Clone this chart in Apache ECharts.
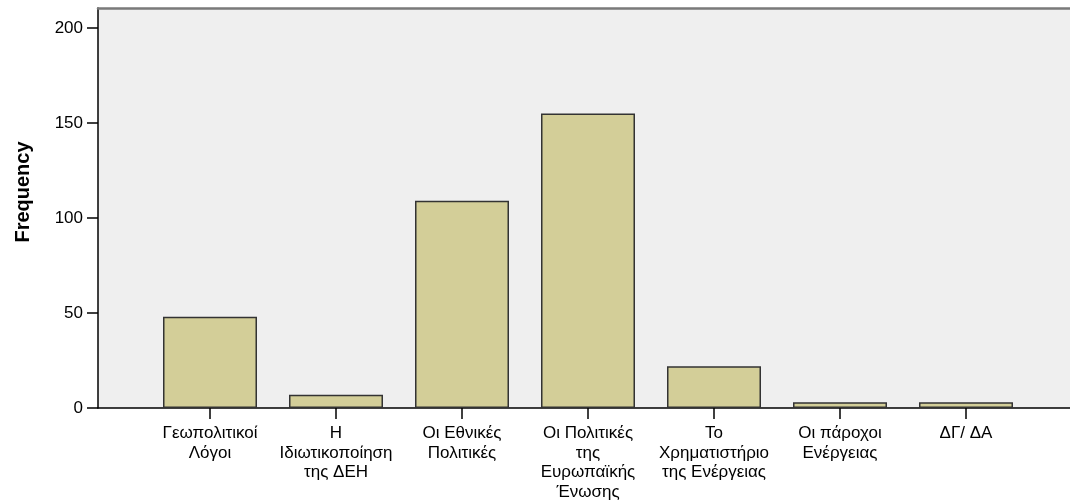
<!DOCTYPE html>
<html>
<head>
<meta charset="utf-8">
<script src="https://cdn.jsdelivr.net/npm/echarts@6/dist/echarts.min.js"></script>
<style>
html,body{margin:0;padding:0;background:#fff;}
#chart{width:1070px;height:503px;}
</style>
</head>
<body>
<div id="chart"></div>
<script>
const categories = [
  "Γεωπολιτικοί\nΛόγοι",
  "Η\nΙδιωτικοποίηση\nτης ΔΕΗ",
  "Οι Εθνικές\nΠολιτικές",
  "Οι Πολιτικές\nτης\nΕυρωπαϊκής\nΈνωσης",
  "Το\nΧρηματιστήριο\nτης Ενέργειας",
  "Οι πάροχοι\nΕνέργειας",
  "ΔΓ/ ΔΑ"
];
const frequencies = [48, 7, 109, 155, 22, 3, 3];
const yTicks = [0, 50, 100, 150, 200];
const yMax = 210.5;

const FONT = "'Liberation Sans', Arial, sans-serif";
const chart = echarts.init(document.getElementById('chart'));
chart.setOption({
  animation: false,
  backgroundColor: '#ffffff',
  grid: [
    { left: 98, top: 8, right: -10, bottom: 95, show: true, backgroundColor: '#efefef', borderWidth: 0 },
    { left: 147, top: 8, right: 41, bottom: 95 }
  ],
  xAxis: [
    { gridIndex: 0, type: 'value', min: 0, max: 1, position: 'bottom',
      axisLine: { show: true, lineStyle: { color: '#000', width: 1.5 } },
      axisTick: { show: false }, axisLabel: { show: false }, splitLine: { show: false } },
    { gridIndex: 0, type: 'value', min: 0, max: 1, position: 'top',
      axisLine: { show: true, lineStyle: { color: '#7a7a7a', width: 2.5 } },
      axisTick: { show: false }, axisLabel: { show: false }, splitLine: { show: false } },
    { gridIndex: 1, type: 'category', data: categories,
      axisLine: { show: false },
      axisTick: { show: true, alignWithLabel: true, length: 11, lineStyle: { color: '#000', width: 1.5 } },
      axisLabel: { interval: 0, margin: 16, fontSize: 17, lineHeight: 19.5, color: '#000', fontFamily: FONT } }
  ],
  yAxis: [
    { gridIndex: 0, type: 'value', show: false, min: 0, max: 1 },
    { gridIndex: 1, type: 'value', min: 0, max: yMax, interval: 50, offset: 49,
      axisLine: { show: true, lineStyle: { color: '#000', width: 1.5 } },
      axisTick: { show: true, length: 11, customValues: yTicks, lineStyle: { color: '#000', width: 1.5 } },
      axisLabel: { customValues: yTicks, margin: 15, fontSize: 17, color: '#000', fontFamily: FONT },
      splitLine: { show: false },
      name: 'Frequency', nameLocation: 'middle', nameGap: 65,
      nameTextStyle: { fontWeight: 'bold', fontSize: 20, color: '#000', fontFamily: FONT, padding: [0, 0, 0, 32] }
    }
  ],
  series: [{
    type: 'bar', xAxisIndex: 2, yAxisIndex: 1, data: frequencies,
    barCategoryGap: '25.4%',
    itemStyle: { color: '#d3ce98', borderColor: '#333', borderWidth: 1.5 }
  }]
});
</script>
</body>
</html>
